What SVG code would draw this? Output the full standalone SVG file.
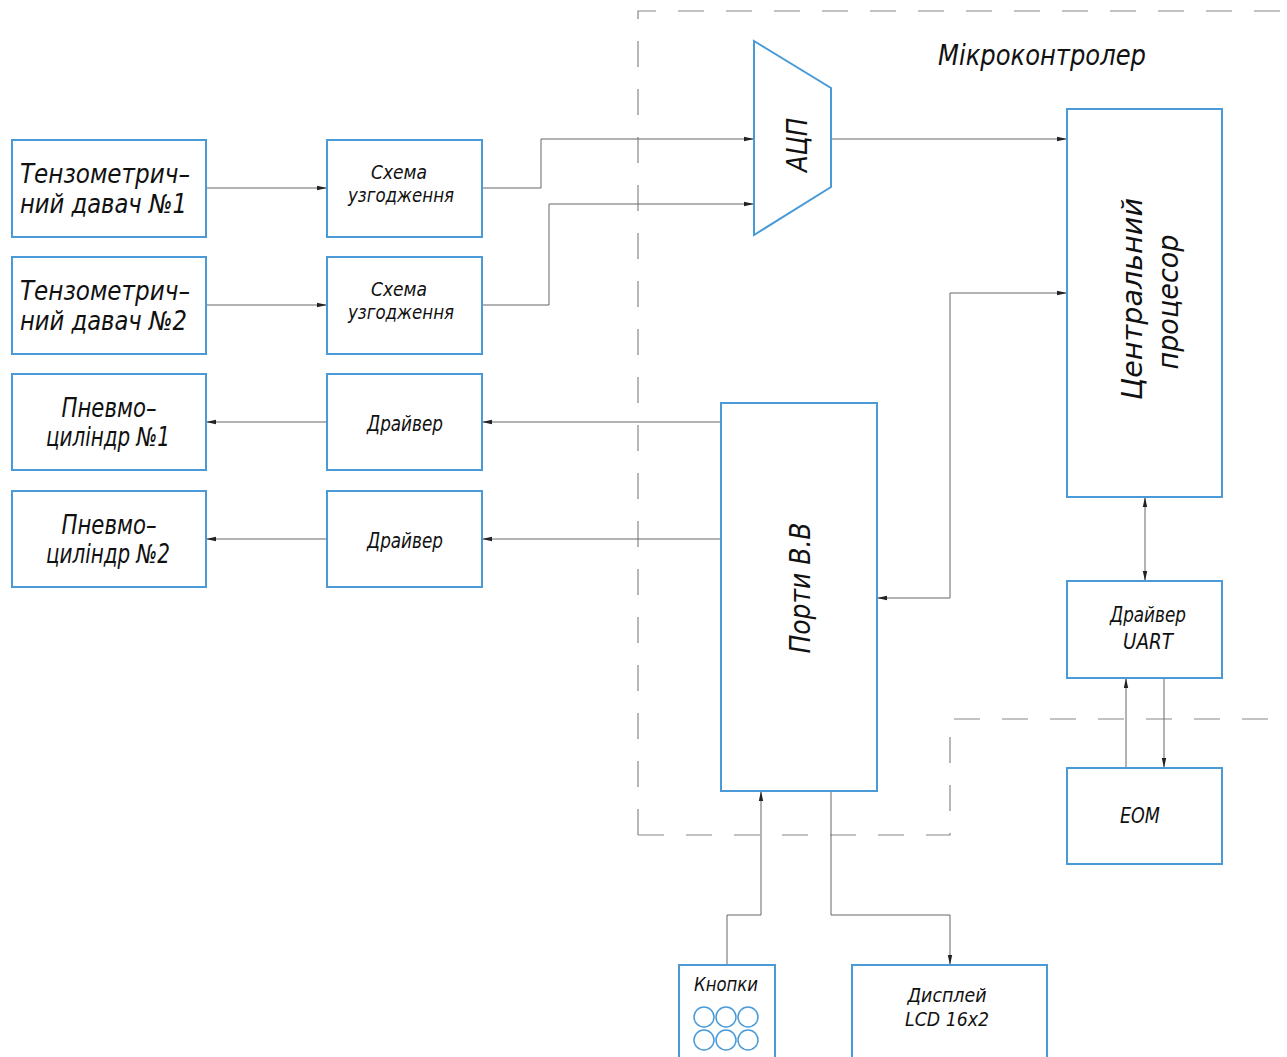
<svg xmlns="http://www.w3.org/2000/svg" width="1287" height="1057" viewBox="0 0 1287 1057">
<defs>
<style>
.box{fill:#fff;stroke:#4a9ad8;stroke-width:2}
.c{fill:none;stroke:#666;stroke-width:1}
.d{fill:none;stroke:#888;stroke-width:1.2;stroke-dasharray:26 22}
text{font-family:"DejaVu Sans Condensed","DejaVu Sans",sans-serif;font-stretch:condensed;font-style:italic;font-weight:300;fill:#111;text-anchor:middle}
.s{text-anchor:start}
.t28{font-size:29px}
.t26{font-size:26px}
.t22{font-size:22px}
.t20{font-size:20px}
</style>
<marker id="a" viewBox="0 0 10 6" refX="10" refY="3" markerWidth="10" markerHeight="6" markerUnits="userSpaceOnUse" orient="auto-start-reverse">
<path d="M0,0.8 L10,3 L0,5.2 Z" fill="#222"/>
</marker>
</defs>
<rect width="1287" height="1057" fill="#fff"/>
<g id="boundary">
<path class="d" d="M638,835 L638,11 L1287,11"/>
<path class="d" d="M638,835 L950,835 L950,719 L1287,719"/>
</g>
<g id="connectors">
<path class="c" d="M206,188 L327,188" marker-end="url(#a)"/>
<path class="c" d="M206,305 L327,305" marker-end="url(#a)"/>
<path class="c" d="M482,188 L541,188 L541,139 L754,139" marker-end="url(#a)"/>
<path class="c" d="M482,305 L549,305 L549,204 L754,204" marker-end="url(#a)"/>
<path class="c" d="M831,139 L1067,139" marker-end="url(#a)"/>
<path class="c" d="M327,422 L206,422" marker-end="url(#a)"/>
<path class="c" d="M721,422 L482,422" marker-end="url(#a)"/>
<path class="c" d="M327,539 L206,539" marker-end="url(#a)"/>
<path class="c" d="M721,539 L482,539" marker-end="url(#a)"/>
<path class="c" d="M877,598 L950,598 L950,293 L1067,293" marker-start="url(#a)" marker-end="url(#a)"/>
<path class="c" d="M1145,497 L1145,581" marker-start="url(#a)" marker-end="url(#a)"/>
<path class="c" d="M1126,768 L1126,678" marker-end="url(#a)"/>
<path class="c" d="M1164,678 L1164,768" marker-end="url(#a)"/>
<path class="c" d="M727,965 L727,915 L761,915 L761,791" marker-end="url(#a)"/>
<path class="c" d="M831,791 L831,915 L950,915 L950,965" marker-end="url(#a)"/>
</g>
<g id="sensor1"><rect class="box" x="12" y="140" width="194" height="97"/>
<text class="t26 s" x="20" y="183" textLength="170" lengthAdjust="spacingAndGlyphs">Тензометрич–</text><text class="t26 s" x="20" y="213" textLength="167" lengthAdjust="spacingAndGlyphs">ний давач №1</text></g>
<g id="sensor2"><rect class="box" x="12" y="257" width="194" height="97"/>
<text class="t26 s" x="20" y="300" textLength="170" lengthAdjust="spacingAndGlyphs">Тензометрич–</text><text class="t26 s" x="20" y="330" textLength="167" lengthAdjust="spacingAndGlyphs">ний давач №2</text></g>
<g id="cyl1"><rect class="box" x="12" y="374" width="194" height="96"/>
<text class="t26" x="109" y="417" textLength="95" lengthAdjust="spacingAndGlyphs">Пневмо–</text><text class="t26" x="108" y="446" textLength="124" lengthAdjust="spacingAndGlyphs">циліндр №1</text></g>
<g id="cyl2"><rect class="box" x="12" y="491" width="194" height="96"/>
<text class="t26" x="109" y="534" textLength="95" lengthAdjust="spacingAndGlyphs">Пневмо–</text><text class="t26" x="108" y="563" textLength="124" lengthAdjust="spacingAndGlyphs">циліндр №2</text></g>
<g id="match1"><rect class="box" x="327" y="140" width="155" height="97"/>
<text class="t20" x="399" y="179" textLength="56" lengthAdjust="spacingAndGlyphs">Схема</text><text class="t20" x="401" y="202" textLength="106" lengthAdjust="spacingAndGlyphs">узгодження</text></g>
<g id="match2"><rect class="box" x="327" y="257" width="155" height="97"/>
<text class="t20" x="399" y="296" textLength="56" lengthAdjust="spacingAndGlyphs">Схема</text><text class="t20" x="401" y="319" textLength="106" lengthAdjust="spacingAndGlyphs">узгодження</text></g>
<g id="drv1"><rect class="box" x="327" y="374" width="155" height="96"/>
<text class="t22" x="405" y="431" textLength="76" lengthAdjust="spacingAndGlyphs">Драйвер</text></g>
<g id="drv2"><rect class="box" x="327" y="491" width="155" height="96"/>
<text class="t22" x="405" y="548" textLength="76" lengthAdjust="spacingAndGlyphs">Драйвер</text></g>
<g id="adc"><path class="box" d="M754,41 L831,88 L831,187 L754,235 Z"/>
<text class="t28" transform="translate(807,145) rotate(-90)" textLength="54" lengthAdjust="spacingAndGlyphs">АЦП</text></g>
<g id="mcu-label"><text class="t28" x="1042" y="65" textLength="208" lengthAdjust="spacingAndGlyphs">Мікроконтролер</text></g>
<g id="cpu"><rect class="box" x="1067" y="109" width="155" height="388"/>
<text class="t28" transform="translate(1142,299) rotate(-90)" textLength="202" lengthAdjust="spacingAndGlyphs">Центральний</text>
<text class="t28" transform="translate(1178,302) rotate(-90)" textLength="135" lengthAdjust="spacingAndGlyphs">процесор</text></g>
<g id="ports"><rect class="box" x="721" y="403" width="156" height="388"/>
<text class="t28" transform="translate(810,588) rotate(-90)" textLength="131" lengthAdjust="spacingAndGlyphs">Порти В.В</text></g>
<g id="uart"><rect class="box" x="1067" y="581" width="155" height="97"/>
<text class="t22" x="1148" y="622" textLength="76" lengthAdjust="spacingAndGlyphs">Драйвер</text><text class="t22" x="1148" y="649" textLength="50" lengthAdjust="spacingAndGlyphs">UART</text></g>
<g id="eom"><rect class="box" x="1067" y="768" width="155" height="96"/>
<text class="t22" x="1140" y="823" textLength="40" lengthAdjust="spacingAndGlyphs">ЕОМ</text></g>
<g id="buttons"><rect class="box" x="679" y="965" width="96" height="100"/>
<text class="t20" x="726" y="991" textLength="64" lengthAdjust="spacingAndGlyphs">Кнопки</text>
<g fill="none" stroke="#4a9ad8" stroke-width="1.5">
<circle cx="704" cy="1017" r="10"/><circle cx="726" cy="1017" r="10"/><circle cx="748" cy="1017" r="10"/>
<circle cx="704" cy="1040" r="10"/><circle cx="726" cy="1040" r="10"/><circle cx="748" cy="1040" r="10"/>
</g></g>
<g id="display"><rect class="box" x="852" y="965" width="195" height="100"/>
<text class="t20" x="947" y="1002" textLength="79" lengthAdjust="spacingAndGlyphs">Дисплей</text><text class="t20" x="947" y="1026" textLength="84" lengthAdjust="spacingAndGlyphs">LCD 16x2</text></g>
</svg>
